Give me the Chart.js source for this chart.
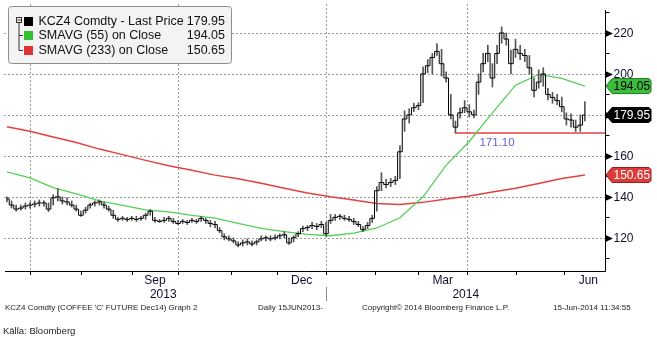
<!DOCTYPE html>
<html>
<head>
<meta charset="utf-8">
<script src="https://cdn.jsdelivr.net/npm/chart.js@4.4.1/dist/chart.umd.min.js"></script>
<style>
  html, body { margin: 0; padding: 0; background: #fff; }
  #wrap { position: relative; width: 657px; height: 340px; }
</style>
</head>
<body>
<div id="wrap"><canvas id="c"></canvas></div>
<script>
// KCZ4 (Coffee 'C' Dec14), every second session from 17 Jun 2013 to 13 Jun 2014
const closes = [
  139, 136, 134, 134.5, 135.5, 136, 136.5, 137, 137, 134,
  139.5, 140, 138, 137.5, 136, 134, 131, 133.5, 136, 137,
  137.5, 136, 134, 131, 129, 129.5, 129, 129.5, 129, 129.5,
  131, 133, 128.5, 128, 128.5, 129.5, 128, 127, 128, 127.5,
  128.5, 128, 129.5, 128.5, 127, 126.5, 123.5, 120.5, 119.5, 118.5,
  116.5, 117.5, 118, 117, 118, 119.5, 120, 119.5, 120, 121,
  121.5, 117.5, 120, 122, 124.5, 125, 126, 125.5, 126.5, 122,
  128.5, 130, 130.5, 129.5, 129, 128, 126.5, 124, 126, 129.5,
  143, 147, 146, 147, 148, 162, 178, 180, 183.5, 184.5,
  200, 204, 208, 211, 205, 198, 180, 174, 181, 183.5,
  181.5, 180, 196, 205, 210, 198, 210, 220, 217, 205,
  212, 210, 209, 203, 192, 196, 200, 190, 188.5, 187,
  184, 178, 177.5, 174, 175, 179.95
];
const highs = [
  140, 138, 136, 136, 137, 137.5, 138, 138.5, 138, 137,
  141, 144, 140, 139.5, 138, 136, 133, 135, 137, 138,
  138.5, 137.5, 135.5, 133.5, 130, 130.5, 130, 130.5, 130.5, 130.5,
  132, 133.8, 130, 129, 130, 130.5, 129.5, 128.5, 129, 128.5,
  129.5, 129, 130.5, 129.5, 128.5, 128, 125, 122, 121, 120,
  118, 119, 119.5, 118.5, 119, 121, 121, 121, 121.5, 122,
  123, 120, 121, 123, 125.7, 126, 127.5, 127, 128, 127.5,
  131.4, 131.4, 131.5, 131, 130.5, 129.5, 128, 125.5, 127.5, 131,
  145, 151.8, 148.5, 149, 150, 165, 182, 183, 185.7, 186,
  203.5, 207, 210, 214.8, 212, 201, 190, 177, 183.5, 187,
  185, 182.4, 200, 210, 214, 205, 214, 223, 220, 211.6,
  217, 214, 212, 209, 198, 202, 203, 193, 191, 190,
  188.7, 181, 180.5, 177.5, 180, 186.5
];
const lows = [
  137.5, 134.5, 133, 133.5, 134, 134.5, 135, 135.5, 135.5, 132.8,
  136, 138, 136.5, 136, 135, 133, 130.4, 132, 134.5, 135.5,
  136, 134.5, 133, 129.5, 128, 128.5, 128, 128.5, 128, 128.5,
  129, 131, 127.5, 127.5, 127.5, 128, 127, 126.4, 127, 126.5,
  127.5, 127, 128, 127, 125.5, 125, 122.5, 119, 118.5, 117.5,
  115.5, 116, 116.5, 116, 116.5, 118.5, 118.5, 118.5, 119, 119.5,
  120, 116.8, 118, 120.5, 123, 123.5, 124.5, 124, 125, 120.8,
  127, 128.5, 129, 128.5, 128, 126.5, 125.5, 123, 124.5, 127.5,
  133, 143, 144.4, 145, 146, 149, 172, 176, 181.6, 182.5,
  186, 200.5, 200, 209, 199, 196, 178, 171.1, 178.4, 181,
  179, 178.5, 190, 201, 206, 193.6, 205, 215, 214, 200,
  208, 207, 206, 200, 188.8, 193, 194, 187.3, 185.7, 185,
  181.5, 175, 174, 171.9, 172, 177
];

// 55- and 233-session simple moving averages, read every tenth session
const sma55 = [
  152.2, 149.3, 144.5, 141.5, 138, 135.8, 133.6, 132.7, 131, 129.6,
  127, 124.6, 123, 121.7, 121, 122.3, 124.8, 129.8, 140, 155.5,
  167, 181, 194.5, 199.8, 197.8, 194.05
];
const sma233 = [
  174.2, 172, 169.2, 166.5, 163.3, 160.6, 157.8, 155.2, 153, 150.6,
  148.8, 146.6, 144.2, 141.9, 140, 138.5, 136.8, 136.3, 137.3, 138.9,
  140.4, 142.4, 144.2, 146.5, 148.9, 150.65
];

// support level drawn from the March low
const supportLevel = 171.10;
const supportFromDay = 194;

// session index of each month's first trading day (Jul 2013 ... Jun 2014)
const monthStartDays = [10, 32, 54, 74, 97, 117, 138, 159, 178, 199, 220, 241];
const quarterStartDays = [10, 74, 138, 199];
const monthLabels = ['Sep', 'Dec', 'Mar', 'Jun'];
const monthLabelDays = [64, 127.5, 188.5, 251.5];
const yearLabels = ['2013', '2014'];
const yearBreakDay = 138;

const yMajorTicks = [120, 140, 160, 180, 200, 220];
const yMinorTicks = [110, 130, 150, 170, 190, 210, 230];

const legendNames = ['KCZ4 Comdty - Last Price', 'SMAVG (55) on Close', 'SMAVG (233) on Close'];

const footerTexts = [
  "KCZ4 Comdty (COFFEE 'C' FUTURE Dec14) Graph 2",
  'Daily 15JUN2013-',
  'Copyright\u00A9 2014 Bloomberg Finance L.P.',
  '15-Jun-2014 11:34:55'
];
const sourceText = 'K\u00E4lla: Bloomberg';

const barDay = closes.map((_, i) => i * 2);
const smaDay = sma55.map((_, i) => i * 10);
const lastDay = barDay[barDay.length - 1];

const FONT = '"Liberation Sans", Arial, sans-serif';
const INK = '#10102a';
const GREEN_LINE = '#55cf55';
const RED_LINE = '#e5403f';

function hline(ctx, x1, y, x2) { ctx.beginPath(); ctx.moveTo(x1, y); ctx.lineTo(x2, y); ctx.stroke(); }
function vline(ctx, x, y1, y2) { ctx.beginPath(); ctx.moveTo(x, y1); ctx.lineTo(x, y2); ctx.stroke(); }

function valueTag(ctx, py, text, bg, fg, edge) {
  const top = py - 7.5, bot = py + 7.5;
  ctx.beginPath();
  ctx.moveTo(606, py);
  ctx.lineTo(612, top);
  ctx.lineTo(649, top);
  ctx.lineTo(651, top + 2);
  ctx.lineTo(651, bot - 2);
  ctx.lineTo(649, bot);
  ctx.lineTo(612, bot);
  ctx.closePath();
  ctx.fillStyle = bg; ctx.fill();
  ctx.strokeStyle = edge; ctx.lineWidth = 1; ctx.stroke();
  ctx.fillStyle = fg;
  ctx.font = '12px ' + FONT;
  ctx.textAlign = 'left'; ctx.textBaseline = 'middle';
  ctx.fillText(text, 613.5, py + 0.5);
}

const decor = {
  id: 'decor',
  beforeDatasetsDraw(chart) {
    const { ctx, chartArea: a, scales: { x, y } } = chart;
    ctx.save();
    ctx.strokeStyle = '#9c9c9c';
    ctx.lineWidth = 1;
    ctx.setLineDash([2, 2]);
    yMajorTicks.forEach(v => {
      const py = Math.round(y.getPixelForValue(v)) + 0.5;
      hline(ctx, 4, py, a.right);
    });
    quarterStartDays.forEach(d => {
      const px = Math.round(x.getPixelForValue(d)) + 0.5;
      vline(ctx, px, 4, a.bottom);
    });
    ctx.restore();
  },
  afterDatasetsDraw(chart) {
    const { ctx, chartArea: a, scales: { x, y } } = chart;
    ctx.save();
    ctx.setLineDash([]);

    // support label
    ctx.fillStyle = '#6262cf';
    ctx.font = '11.5px ' + FONT;
    ctx.textAlign = 'center'; ctx.textBaseline = 'middle';
    ctx.fillText(supportLevel.toFixed(2), 497, y.getPixelForValue(supportLevel) + 10);

    // right value axis
    ctx.strokeStyle = '#000';
    ctx.lineWidth = 1;
    const ax = Math.round(a.right) + 0.5;
    vline(ctx, ax, a.top, a.bottom + 0.5);
    yMinorTicks.forEach(v => {
      const py = Math.round(y.getPixelForValue(v)) + 0.5;
      hline(ctx, ax, py, ax + 4);
    });
    ctx.font = '12px ' + FONT;
    ctx.textAlign = 'left'; ctx.textBaseline = 'middle';
    yMajorTicks.forEach(v => {
      const py = Math.round(y.getPixelForValue(v)) + 0.5;
      ctx.fillStyle = '#000';
      ctx.beginPath();
      ctx.moveTo(ax, py - 3.5); ctx.lineTo(ax + 7.5, py); ctx.lineTo(ax, py + 3.5);
      ctx.closePath(); ctx.fill();
      ctx.fillStyle = INK;
      ctx.fillText(String(v), 613.5, py + 0.5);
    });

    // bottom time axis
    const by = Math.round(a.bottom) + 0.5;
    hline(ctx, 5, by, a.right + 0.5);
    monthStartDays.forEach(d => {
      const px = Math.round(x.getPixelForValue(d)) + 0.5;
      vline(ctx, px, by, by + 3.5);
    });
    ctx.fillStyle = INK;
    ctx.textAlign = 'center';
    monthLabels.forEach((m, i) => ctx.fillText(m, x.getPixelForValue(monthLabelDays[i]), 280.5));
    const breakX = Math.round(x.getPixelForValue(yearBreakDay)) + 0.5;
    ctx.fillText(yearLabels[0], (a.left + breakX) / 2, 295);
    ctx.fillText(yearLabels[1], (breakX + a.right) / 2, 295);
    ctx.strokeStyle = '#8a8a8a';
    vline(ctx, breakX, 287, 301);

    // value tags
    valueTag(ctx, y.getPixelForValue(sma55[sma55.length - 1]), sma55[sma55.length - 1].toFixed(2), '#3dbd3d', '#000', '#1d7a1d');
    valueTag(ctx, y.getPixelForValue(closes[closes.length - 1]), closes[closes.length - 1].toFixed(2), '#000', '#fff', '#000');
    valueTag(ctx, y.getPixelForValue(sma233[sma233.length - 1]), sma233[sma233.length - 1].toFixed(2), '#dd3a3a', '#fff', '#9a1c1c');

    // legend panel
    ctx.beginPath();
    ctx.roundRect(8.5, 6.5, 223, 57, 3);
    ctx.fillStyle = '#f3f3f3'; ctx.fill();
    ctx.strokeStyle = '#8e8e8e'; ctx.stroke();
    // tree glyph
    ctx.strokeStyle = '#333';
    ctx.strokeRect(16.5, 17.5, 5, 5);
    hline(ctx, 17.5, 20, 21);
    vline(ctx, 19, 22.5, 50.5);
    hline(ctx, 19, 35.5, 23);
    hline(ctx, 19, 50.5, 23);
    const swatches = ['#000', '#2fc12f', '#e03434'];
    const values = [closes[closes.length - 1], sma55[sma55.length - 1], sma233[sma233.length - 1]];
    const rowY = [21.5, 35.5, 50.5];
    ctx.font = '12.5px ' + FONT;
    ctx.textBaseline = 'middle';
    legendNames.forEach((name, i) => {
      ctx.fillStyle = swatches[i];
      ctx.fillRect(24, rowY[i] - 4.5, 9, 9);
      ctx.fillStyle = '#111';
      ctx.textAlign = 'left';
      ctx.fillText(name, 38.5, rowY[i] + 0.5);
      ctx.textAlign = 'right';
      ctx.fillText(values[i].toFixed(2), 225, rowY[i] + 0.5);
    });

    // footer
    ctx.fillStyle = '#222';
    ctx.font = '8px ' + FONT;
    ctx.textAlign = 'left';
    const footX = [5, 258, 362, 553];
    footerTexts.forEach((t, i) => ctx.fillText(t, footX[i], 308));
    ctx.font = '9.5px ' + FONT;
    ctx.fillText(sourceText, 3, 331);
    ctx.restore();
  }
};

new Chart(document.getElementById('c'), {
  type: 'bar',
  data: {
    datasets: [
      {
        type: 'line',
        data: barDay.map((d, i) => ({ x: d, y: closes[i] })),
        borderColor: '#000',
        borderWidth: 1,
        pointRadius: 0,
        stepped: 'middle',
        order: 1
      },
      {
        type: 'bar',
        data: barDay.map((d, i) => ({ x: d, y: [lows[i], highs[i]] })),
        backgroundColor: '#555',
        barThickness: 1,
        order: 2
      },
      {
        type: 'line',
        data: smaDay.map((d, i) => ({ x: d, y: sma55[i] })),
        borderColor: GREEN_LINE,
        borderWidth: 1.3,
        pointRadius: 0,
        order: 3
      },
      {
        type: 'line',
        data: smaDay.map((d, i) => ({ x: d, y: sma233[i] })),
        borderColor: RED_LINE,
        borderWidth: 1.5,
        pointRadius: 0,
        order: 4
      },
      {
        type: 'line',
        data: [{ x: supportFromDay, y: supportLevel }, { x: 258.7, y: supportLevel }],
        borderColor: RED_LINE,
        borderWidth: 1.5,
        pointRadius: 0,
        order: 5
      }
    ]
  },
  options: {
    responsive: true,
    maintainAspectRatio: false,
    animation: false,
    devicePixelRatio: 1,
    layout: { padding: { top: 10, left: 0, right: 0, bottom: 0 } },
    plugins: { legend: { display: false }, tooltip: { enabled: false } },
    scales: {
      x: {
        type: 'linear',
        min: -3,
        max: 258.7,
        offset: false,
        grid: { display: false },
        border: { display: false },
        ticks: { display: false },
        afterFit: s => { s.height = 69; }
      },
      y: {
        type: 'linear',
        position: 'right',
        min: 103.8,
        max: 231.2,
        grid: { display: false },
        border: { display: false },
        ticks: { display: false },
        afterFit: s => { s.width = 52; }
      }
    }
  },
  plugins: [decor]
});
</script>
</body>
</html>
